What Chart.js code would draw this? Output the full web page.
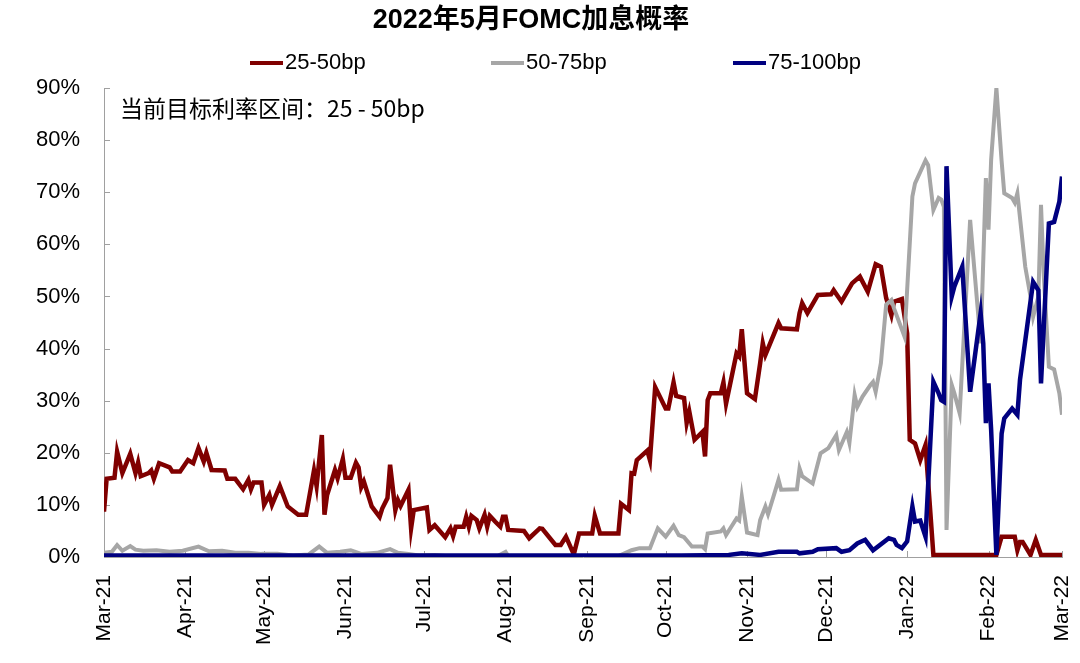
<!DOCTYPE html>
<html>
<head>
<meta charset="utf-8">
<script src="https://cdn.jsdelivr.net/npm/chart.js@4.4.0/dist/chart.umd.min.js"></script>
<style>
  html, body { margin: 0; padding: 0; background: #fff; }
  #wrap { width: 1080px; height: 663px; }
</style>
</head>
<body>
<div id="wrap"><canvas id="myChart" width="1080" height="663"></canvas></div>
<script>
// days counted from 2021-03-01
const monthTicks = [0, 31, 61, 92, 122, 153, 184, 214, 245, 275, 306, 337, 365];
const monthLabels = ['Mar-21', 'Apr-21', 'May-21', 'Jun-21', 'Jul-21', 'Aug-21', 'Sep-21',
                     'Oct-21', 'Nov-21', 'Dec-21', 'Jan-22', 'Feb-22', 'Mar-22'];
const yTicks = [0, 10, 20, 30, 40, 50, 60, 70, 80, 90];

const seriesNames = ['25-50bp', '50-75bp', '75-100bp'];
const chartTitle = '2022年5月FOMC加息概率';
const noteText = '当前目标利率区间：25 - 50bp';

// [day, probability %]
const red2550 = [
  [0, 8.7], [1, 15], [4, 15.2], [5, 20.2], [7, 16.1], [10, 19.8], [12, 16.1], [13, 18.1], [14, 15.5],
  [17, 16.1], [18, 16.6], [19, 15], [21, 18], [25, 17.2], [26, 16.4], [29, 16.4], [32, 18.6], [34, 18],
  [36, 20.9], [38, 18.3], [39, 20], [41, 16.7], [46, 16.6], [47, 15], [50, 15], [53, 13], [55, 14.8],
  [56, 13], [57, 14.3], [60, 14.3], [61, 10], [63, 11.9], [64, 10], [67, 13.6], [70, 9.7], [74, 8.1],
  [77, 8.1], [80, 16.6], [81, 13.6], [83, 23.4], [84, 8.1], [85, 11.9], [88, 16.7], [89, 15.1],
  [91, 18.8], [92, 15.2], [94, 15.2], [96, 18.1], [97, 17.2], [98, 13.4], [99, 14.5], [102, 9.7],
  [105, 7.7], [106, 9.3], [108, 11.3], [109, 17.7], [111, 9], [112, 10.9], [113, 9.8], [116, 12.9],
  [117, 5.5], [118, 9], [123, 9.5], [124, 5.2], [126, 6.1], [130, 3.8], [132, 5.5], [133, 4],
  [134, 5.8], [137, 5.8], [138, 7.7], [139, 5.8], [140, 7.9], [142, 7.1], [143, 5.5], [145, 8.1],
  [146, 5.8], [147, 7.9], [149, 6.8], [151, 5.8], [152, 7.7], [153, 7.7], [154, 5.2], [160, 5],
  [162, 3.6], [166, 5.5], [167, 5.4], [172, 2.3], [174, 2.3], [176, 3.9], [179, 0.5], [181, 4.5],
  [186, 4.5], [187, 7.9], [189, 4.5], [196, 4.5], [197, 10.2], [200, 9], [201, 16.1], [202, 16],
  [203, 18.6], [207, 20.4], [208, 18.6], [210, 32.6], [214, 28.5], [215, 28.5], [217, 33.5],
  [218, 30.9], [221, 30.5], [222, 25.7], [223, 27.9], [225, 22.5], [228, 24], [229, 19.3],
  [230, 30.1], [231, 31.4], [235, 31.4], [236, 33.5], [237, 29.4], [241, 39.1], [242, 38.5],
  [243, 43.7], [245, 31.4], [248, 30.3], [250, 37.2], [251, 41], [252, 38.8], [257, 44.9],
  [258, 43.9], [264, 43.7], [265, 46.8], [266, 48.7], [268, 46.8], [272, 50.3], [277, 50.4],
  [278, 51.2], [281, 49], [285, 52.5], [288, 53.8], [291, 50.9], [294, 56.2], [296, 55.7],
  [298, 49.7], [300, 46.4], [301, 49], [304, 49.5], [306, 42.9], [307, 22.5], [309, 21.8],
  [311, 18.6], [313, 21.5], [316, 0.4], [340, 0.4], [342, 3.9], [347, 3.9], [348, 1.3], [349, 2.9],
  [350, 2.9], [353, 0.4], [355, 3.3], [357, 0.4], [365, 0.4]
];

const gray5075 = [
  [0, 0.8], [3, 1], [5, 2.3], [7, 1.2], [10, 2.1], [12, 1.4], [15, 1.2], [20, 1.3], [25, 1],
  [30, 1.2], [36, 2], [40, 1.1], [45, 1.2], [50, 0.8], [55, 0.8], [60, 0.6], [66, 0.6], [72, 0.3],
  [78, 0.5], [82, 2], [85, 0.8], [90, 1], [94, 1.3], [98, 0.6], [104, 0.8], [109, 1.5], [112, 0.8],
  [116, 0.6], [120, 0.3], [126, 0.4], [130, 0.2], [150, 0.2], [153, 1], [154, 0.2], [180, 0.1],
  [196, 0.2], [201, 1.3], [204, 1.7], [208, 1.7], [211, 5.5], [214, 3.9], [217, 6], [219, 4.2],
  [221, 3.8], [224, 2], [228, 2], [229, 1.5], [230, 4.5], [235, 4.9], [236, 5.5], [237, 4.2],
  [241, 7.4], [242, 7], [243, 11.6], [245, 4.7], [249, 4.2], [250, 7.1], [252, 9.7], [253, 8.2],
  [257, 14.8], [258, 12.9], [264, 13], [265, 17], [266, 15.5], [270, 14.1], [273, 19.9],
  [276, 20.9], [279, 23.4], [280, 20.5], [283, 24], [284, 21.9], [286, 31.1], [287, 28.8],
  [289, 30.8], [292, 33], [293, 33.6], [294, 31.7], [296, 37.2], [298, 48.4], [300, 49.3],
  [301, 47.7], [305, 42.3], [308, 69.2], [309, 71.7], [313, 76.1], [314, 75.2], [316, 66.6],
  [318, 68.9], [319, 68.6], [320, 67.2], [321, 5.2], [323, 33], [324, 31.4], [326, 27.6],
  [330, 64.7], [334, 41], [336, 72.7], [337, 62.8], [338, 76.2], [340, 90], [342, 75.9],
  [343, 69.8], [346, 68.9], [347, 68], [348, 69.8], [351, 55.7], [353, 50], [354, 46.1], [356, 50],
  [357, 67.6], [358, 54.5], [360, 36.5], [362, 36], [364, 31.4], [365, 27.3]
];

const blue75100 = [
  [0, 0.3], [100, 0.3], [200, 0.3], [220, 0.3], [238, 0.4], [243, 0.7], [250, 0.4], [257, 1],
  [264, 1], [265, 0.7], [270, 1], [272, 1.5], [279, 1.7], [281, 1], [284, 1.3], [287, 2.6],
  [290, 3.3], [293, 1.3], [299, 3.6], [301, 3.3], [302, 2.3], [304, 1.7], [306, 3], [308, 9.7],
  [309, 6.8], [311, 7], [313, 3.9], [316, 33.6], [318, 31.4], [319, 30.1], [320, 29.8], [321, 75],
  [323, 50], [324, 51.9], [327, 55.7], [330, 31.7], [334, 46.8], [335, 41], [336, 25.7],
  [337, 33.3], [338, 24.4], [340, 0.4], [342, 23.7], [343, 26.6], [346, 28.5], [348, 27.3],
  [349, 34], [354, 52.8], [356, 51.2], [357, 33.3], [360, 64], [362, 64.3], [364, 68.2], [365, 73]
];

const lineColors = ['#800000', '#a6a6a6', '#000080'];
const axisColor = '#a0a0a0';
const latinFont = '"Liberation Sans", Arial, sans-serif';
const cjkFont = '"Liberation Sans", "Noto Sans CJK SC", sans-serif';

function toPoints(rows) {
    return rows.map(r => ({ x: r[0], y: r[1] }));
}

// inside tick marks, the note text and the legend
const chartExtras = {
    id: 'chartExtras',
    beforeDatasetsDraw(chart) {
        const { ctx, chartArea: a, scales: { x, y } } = chart;
        ctx.save();
        ctx.strokeStyle = axisColor;
        ctx.lineWidth = 1;
        ctx.beginPath();
        monthTicks.forEach(d => {
            const px = Math.round(x.getPixelForValue(d)) + 0.5;
            ctx.moveTo(px, a.bottom);
            ctx.lineTo(px, a.bottom - 6);
        });
        yTicks.forEach(v => {
            const py = Math.round(y.getPixelForValue(v)) + 0.5;
            ctx.moveTo(a.left, py);
            ctx.lineTo(a.left + 6, py);
        });
        ctx.stroke();

        ctx.fillStyle = '#000';
        ctx.font = '23px "Noto Sans CJK SC", sans-serif';
        ctx.textBaseline = 'middle';
        ctx.fillText(noteText, a.left + 16, a.top + 20);
        ctx.restore();
    },
    afterDraw(chart) {
        const ctx = chart.ctx;
        const startX = [250, 491, 733];
        const legendY = 63;
        ctx.save();
        ctx.font = '22px ' + latinFont;
        ctx.textBaseline = 'middle';
        chart.data.datasets.forEach((ds, i) => {
            ctx.strokeStyle = ds.borderColor;
            ctx.lineWidth = 4;
            ctx.beginPath();
            ctx.moveTo(startX[i], legendY);
            ctx.lineTo(startX[i] + 33, legendY);
            ctx.stroke();
            ctx.fillStyle = '#000';
            ctx.fillText(ds.label, startX[i] + 35, legendY);
        });
        ctx.restore();
    }
};

const datasets = [red2550, gray5075, blue75100].map((rows, i) => ({
    label: seriesNames[i],
    data: toPoints(rows),
    borderColor: lineColors[i],
    backgroundColor: lineColors[i],
    borderWidth: i === 1 ? 4 : 4.5,
    pointRadius: 0,
    tension: 0,
    order: 2 - i
}));

const ctx = document.getElementById('myChart').getContext('2d');
const chartInstance = new Chart(ctx, {
    type: 'line',
    data: { datasets: datasets },
    options: {
        responsive: false,
        animation: false,
        devicePixelRatio: 1,
        layout: { padding: { left: 0, right: 18, top: 0, bottom: 0 } },
        plugins: {
            legend: { display: false },
            tooltip: { enabled: false },
            title: {
                display: true,
                text: chartTitle,
                color: '#000',
                font: { family: cjkFont, size: 27, weight: 'bold' },
                padding: { top: 4, bottom: 51.6 }
            }
        },
        scales: {
            x: {
                type: 'linear',
                min: 0,
                max: 365,
                afterBuildTicks: function(scale) {
                    scale.ticks = monthTicks.map(v => ({ value: v }));
                },
                afterFit: function(scale) {
                    scale.height = 106;
                    scale.paddingLeft = 0;
                    scale.paddingRight = 0;
                },
                ticks: {
                    autoSkip: false,
                    minRotation: 90,
                    maxRotation: 90,
                    padding: 18,
                    color: '#000',
                    font: { family: latinFont, size: 21 },
                    callback: function(value) {
                        return monthLabels[monthTicks.indexOf(value)];
                    }
                },
                grid: { display: false, drawTicks: false },
                border: { display: true, color: axisColor, width: 1 }
            },
            y: {
                min: 0,
                max: 90,
                afterBuildTicks: function(scale) {
                    scale.ticks = yTicks.map(v => ({ value: v }));
                },
                afterFit: function(scale) {
                    scale.width = 104;
                    scale.paddingTop = 0;
                    scale.paddingBottom = 0;
                },
                ticks: {
                    padding: 24,
                    color: '#000',
                    font: { family: latinFont, size: 22 },
                    callback: function(value) { return value + '%'; }
                },
                grid: { display: false, drawTicks: false },
                border: { display: true, color: axisColor, width: 1 }
            }
        }
    },
    plugins: [chartExtras]
});
</script>
</body>
</html>
